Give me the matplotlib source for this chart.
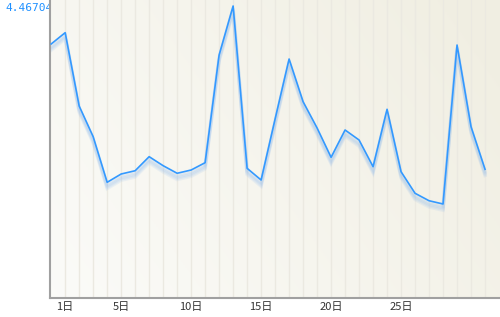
import matplotlib
matplotlib.use("Agg")
import matplotlib.pyplot as plt
import matplotlib.transforms as mtransforms
import numpy as np

days = list(range(0, 32))
values = [3.886, 4.059, 2.937, 2.468, 1.770, 1.897, 1.947, 2.162, 2.024, 1.908,
          1.958, 2.070, 3.717, 4.467, 1.984, 1.805, 2.738, 3.656, 3.003, 2.601,
          2.152, 2.570, 2.417, 2.009, 2.887, 1.932, 1.602, 1.488, 1.438, 3.870,
          2.621, 1.969]
tick_days = [1, 5, 10, 15, 20, 25]
tick_labels = ["1日", "5日", "10日", "15日", "20日", "25日"]
max_value = 4.46704
max_label = "4.467040"

fig = plt.figure(figsize=(5.0, 3.17), dpi=100)
ax = fig.add_axes([49.5 / 500, 19 / 317, 1 - 49.5 / 500, 1 - 19 / 317])
ax.set_zorder(2)

xmin, xmax = -0.12, 32.07
ymin, ymax = 0.0, max_value * 298 / 292
ax.set_xlim(xmin, xmax)
ax.set_ylim(ymin, ymax)

# background gradient (white-ish left/bottom to beige right/top)
nx, ny = 200, 100
gx = np.linspace(0, 1, nx)[None, :]
gy = np.linspace(0, 1, ny)[:, None]
t = np.clip(0.75 * gx + 0.35 * gy, 0, 1)
c0 = np.array([0.985, 0.985, 0.975])
c1 = np.array([0.945, 0.937, 0.890])
img = c0[None, None, :] * (1 - t[..., None]) + c1[None, None, :] * t[..., None]
ax.imshow(img, extent=[xmin, xmax, ymin, ymax], origin="lower", aspect="auto", zorder=0)

# vertical grid lines
for d in days[1:]:
    ax.axvline(d, color="#ebe9e1", lw=1.0, zorder=1)

# shadow
for i, off in enumerate([1.5, 2.5, 3.5, 4.5]):
    tr = mtransforms.offset_copy(ax.transData, fig=fig, x=0, y=-off, units="points")
    ax.plot(days, values, color="#7fb2ee", lw=2.5, alpha=0.12, transform=tr,
            solid_joinstyle="miter", zorder=2)

ax.plot(days, values, color="#3399ff", lw=1.2, zorder=3)

ax.set_xticks(tick_days)
ax.set_xticklabels(tick_labels, fontfamily=["Noto Sans CJK JP", "DejaVu Sans"],
                   fontsize=8, color="#333333")
ax.set_yticks([])
ax.tick_params(axis="x", length=0, pad=3)

for s in ["top", "right"]:
    ax.spines[s].set_visible(False)
for s in ["left", "bottom"]:
    ax.spines[s].set_color("#a0a0a0")
    ax.spines[s].set_linewidth(1.5)

fig.text(5 / 500, 1 - 8 / 317, max_label, fontfamily="DejaVu Sans Mono", fontsize=8,
         color="#1e90ff", ha="left", va="center", zorder=1)

fig.savefig("out.png", dpi=100)
